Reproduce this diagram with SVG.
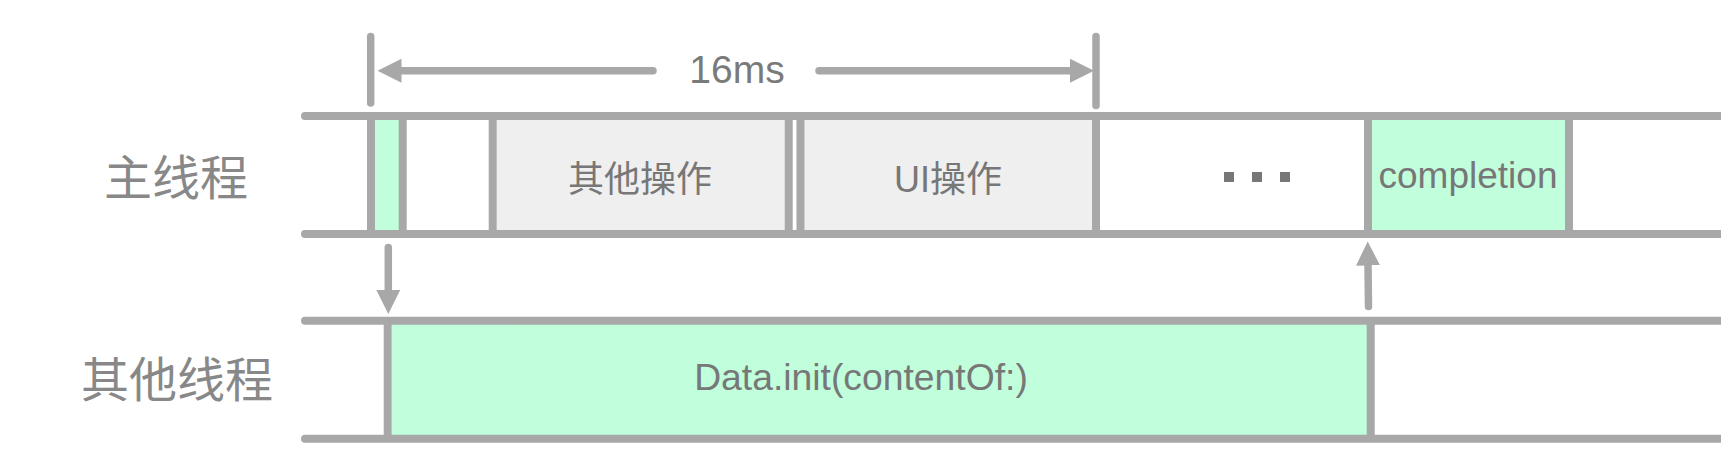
<svg xmlns="http://www.w3.org/2000/svg" width="1721" height="455" viewBox="0 0 1721 455">
<style>
.ln{stroke:#a8a8a8;stroke-width:8;fill:none;stroke-linecap:round}
.vs{stroke:#a8a8a8;stroke-width:8;fill:none}
.cn{stroke:#a8a8a8;stroke-width:7.5;fill:none;stroke-linecap:round}
.green{fill:#c0fedc}
.gray{fill:#efefef}
.lbl{font-family:"Noto Sans CJK SC","Liberation Sans",sans-serif;font-size:48px;fill:#888;text-anchor:middle}
.txt{font-family:"Liberation Sans","Noto Sans CJK SC",sans-serif;fill:#777;text-anchor:middle}
.dot{fill:#777}
</style>
<defs>
<marker id="ah" markerUnits="userSpaceOnUse" markerWidth="26" markerHeight="26" refX="0" refY="12" orient="auto" viewBox="0 0 26 26">
<path d="M0,0 L24,12 L0,24 z" fill="#a8a8a8"/>
</marker>
</defs>
<rect width="1721" height="455" fill="#fff"/>
<g id="labels">
<text class="lbl" x="176" y="195">主线程</text>
<text class="lbl" x="177" y="397">其他线程</text>
</g>
<g id="main-slot-green">
<rect class="green" x="375" y="118" width="24" height="114"/>
<line class="vs" x1="371" y1="116" x2="371" y2="234"/>
<line class="vs" x1="402.7" y1="116" x2="402.7" y2="234"/>
</g>
<g id="other-ops">
<rect class="gray" x="496.7" y="118" width="288" height="114"/>
<line class="vs" x1="492.7" y1="116" x2="492.7" y2="234"/>
<line class="vs" x1="788.7" y1="116" x2="788.7" y2="234"/>
<text class="txt" x="640" y="192" font-size="36" style="font-family:'Noto Sans CJK SC',sans-serif">其他操作</text>
</g>
<g id="ui-ops">
<rect class="gray" x="804.5" y="118" width="287.5" height="114"/>
<line class="vs" x1="800.5" y1="116" x2="800.5" y2="234"/>
<line class="vs" x1="1096" y1="116" x2="1096" y2="234"/>
<text class="txt" x="948" y="192" font-size="36">UI操作</text>
</g>
<g id="ellipsis">
<rect class="dot" x="1224" y="172" width="10" height="10"/>
<rect class="dot" x="1252" y="172" width="10" height="10"/>
<rect class="dot" x="1280" y="172" width="10" height="10"/>
</g>
<g id="completion">
<rect class="green" x="1372" y="118" width="193" height="114"/>
<line class="vs" x1="1368" y1="116" x2="1368" y2="234"/>
<line class="vs" x1="1569" y1="116" x2="1569" y2="234"/>
<text class="txt" x="1468" y="188" font-size="37">completion</text>
</g>
<g id="data-init">
<rect class="green" x="392" y="322" width="975" height="115"/>
<line class="vs" x1="387.7" y1="320.7" x2="387.7" y2="438.7"/>
<line class="vs" x1="1370.7" y1="320.7" x2="1370.7" y2="438.7"/>
<text class="txt" x="861" y="390" font-size="37.3">Data.init(contentOf:)</text>
</g>
<g id="timelines">
<line class="ln" x1="305" y1="116" x2="1725" y2="116"/>
<line class="ln" x1="305" y1="234" x2="1725" y2="234"/>
<line class="ln" x1="305" y1="320.7" x2="1725" y2="320.7"/>
<line class="ln" x1="305" y1="438.7" x2="1725" y2="438.7"/>
</g>
<g id="connectors">
<line class="cn" x1="370.7" y1="36.5" x2="370.7" y2="103"/>
<line class="cn" x1="1096" y1="36.5" x2="1096" y2="105.5"/>
<path class="cn" d="M653,70.7 L401.5,70.7" marker-end="url(#ah)"/>
<path class="cn" d="M819,70.7 L1070,70.7" marker-end="url(#ah)"/>
<path class="cn" d="M388.3,247.5 L388.3,290" marker-end="url(#ah)"/>
<path class="cn" d="M1368.5,306.5 L1368,265.5" marker-end="url(#ah)"/>
<text class="txt" x="737" y="83" font-size="39" style="fill:#7a7a7a">16ms</text>
</g>
</svg>
